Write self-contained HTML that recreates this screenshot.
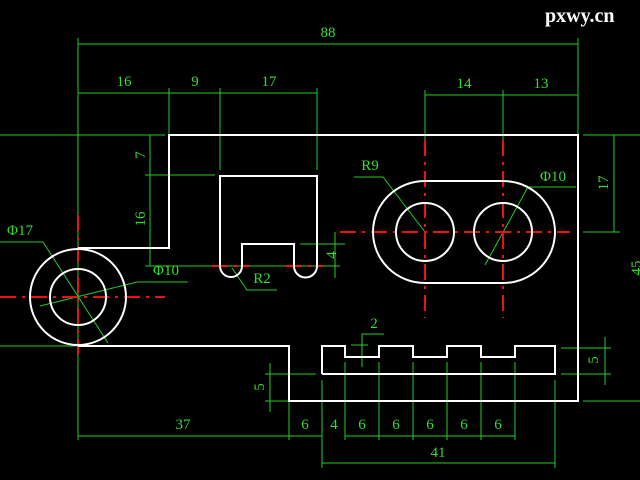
<!DOCTYPE html>
<html><head><meta charset="utf-8"><style>
html,body{margin:0;padding:0;background:#000;}
svg{display:block}
</style></head><body>
<svg width="640" height="480" viewBox="0 0 640 480" xmlns="http://www.w3.org/2000/svg">
<rect width="640" height="480" fill="#000"/>
<g stroke="#22cc22" stroke-width="1" fill="none">
<line x1="78" y1="44" x2="578" y2="44"/>
<line x1="78" y1="38" x2="78" y2="440"/>
<line x1="578" y1="38" x2="578" y2="135"/>
<line x1="78" y1="93" x2="317" y2="93"/>
<line x1="169" y1="88" x2="169" y2="135"/>
<line x1="220" y1="88" x2="220" y2="170"/>
<line x1="317" y1="88" x2="317" y2="170"/>
<line x1="425" y1="95" x2="578" y2="95"/>
<line x1="425" y1="90" x2="425" y2="140"/>
<line x1="503" y1="90" x2="503" y2="140"/>
<line x1="150" y1="135" x2="150" y2="266"/>
<line x1="0" y1="135" x2="165" y2="135"/>
<line x1="145" y1="175" x2="215" y2="175"/>
<line x1="145" y1="266" x2="340" y2="266"/>
<line x1="0" y1="346" x2="78" y2="346"/>
<line x1="300" y1="244" x2="345" y2="244"/>
<line x1="335" y1="232" x2="335" y2="278"/>
<line x1="583" y1="135" x2="640" y2="135"/>
<line x1="583" y1="232" x2="620" y2="232"/>
<line x1="614" y1="135" x2="614" y2="232"/>
<line x1="583" y1="401" x2="640" y2="401"/>
<line x1="561" y1="348" x2="611" y2="348"/>
<line x1="561" y1="374" x2="611" y2="374"/>
<line x1="605" y1="337" x2="605" y2="385"/>
<line x1="265" y1="374" x2="316" y2="374"/>
<line x1="265" y1="401" x2="289" y2="401"/>
<line x1="270" y1="363" x2="270" y2="412"/>
<line x1="78" y1="436" x2="322" y2="436"/>
<line x1="345" y1="436" x2="515" y2="436"/>
<line x1="289" y1="401" x2="289" y2="440"/>
<line x1="322" y1="380" x2="322" y2="468"/>
<line x1="345" y1="362" x2="345" y2="440"/>
<line x1="379" y1="362" x2="379" y2="440"/>
<line x1="413" y1="362" x2="413" y2="440"/>
<line x1="447" y1="362" x2="447" y2="440"/>
<line x1="481" y1="362" x2="481" y2="440"/>
<line x1="515" y1="362" x2="515" y2="440"/>
<line x1="555" y1="380" x2="555" y2="468"/>
<line x1="322" y1="463" x2="555" y2="463"/>
<polyline points="384,334 362,334 362,367"/>
<line x1="351" y1="345" x2="368" y2="345"/>
<polyline points="0,242 43,242 108,343"/>
<polyline points="188,282 137,282 40,306"/>
<polyline points="277,290 247,290 232,268"/>
<polyline points="354,177 383,177 425,232"/>
<polyline points="576,187 528,187 485,265"/>
</g>
<g stroke="#ee1111" stroke-width="2" fill="none" stroke-dasharray="16,6,3,6">
<line x1="0" y1="297" x2="165" y2="297"/>
<line x1="78" y1="215" x2="78" y2="355"/>
<line x1="212" y1="266" x2="250" y2="266"/>
<line x1="286" y1="266" x2="324" y2="266"/>
<line x1="340" y1="232" x2="570" y2="232"/>
<line x1="425" y1="140" x2="425" y2="318"/>
<line x1="503" y1="140" x2="503" y2="318"/>
</g>
<g stroke="#fff" stroke-width="2" fill="none">
<polyline points="78,248 169,248 169,135 578,135 578,401 289,401 289,346 78,346"/>
<circle cx="78" cy="297" r="48"/>
<circle cx="78" cy="297" r="28"/>
<path d="M220,176 L220,266 A11,11 0 0 0 242,266 L242,244 L294,244 L294,266 A11,11 0 0 0 317,266 L317,176 Z"/>
<path d="M425,181 L503,181 A52,51 0 0 1 503,283 L425,283 A52,51 0 0 1 425,181 Z"/>
<circle cx="425" cy="232" r="29"/>
<circle cx="503" cy="232" r="29"/>
<polyline points="322,374 322,346 345,346 345,357 379,357 379,346 413,346 413,357 447,357 447,346 481,346 481,357 515,357 515,346 555,346 555,374 322,374"/>
</g>
<g fill="#33dd33" font-family="Liberation Serif, serif" font-size="15" text-anchor="middle">
<text x="328" y="37">88</text>
<text x="124" y="86">16</text>
<text x="195" y="86">9</text>
<text x="269" y="86">17</text>
<text x="464" y="88">14</text>
<text x="541" y="88">13</text>
<text x="20" y="235">Φ17</text>
<text x="166" y="275">Φ10</text>
<text x="262" y="283">R2</text>
<text x="370" y="170">R9</text>
<text x="553" y="181">Φ10</text>
<text x="374" y="328">2</text>
<text x="183" y="429">37</text>
<text x="305" y="429">6</text>
<text x="334" y="429">4</text>
<text x="362" y="429">6</text>
<text x="396" y="429">6</text>
<text x="430" y="429">6</text>
<text x="464" y="429">6</text>
<text x="498" y="429">6</text>
<text x="438" y="457">41</text>
<text transform="translate(145,155) rotate(-90)">7</text>
<text transform="translate(145,219) rotate(-90)">16</text>
<text transform="translate(336,255) rotate(-90)">4</text>
<text transform="translate(608,183) rotate(-90)">17</text>
<text transform="translate(641,268) rotate(-90)">45</text>
<text transform="translate(598,360) rotate(-90)">5</text>
<text transform="translate(264,387) rotate(-90)">5</text>
</g>
<text x="545" y="22" fill="#fff" font-family="Liberation Serif, serif" font-weight="bold" font-size="20">pxwy.cn</text>
</svg>
</body></html>
